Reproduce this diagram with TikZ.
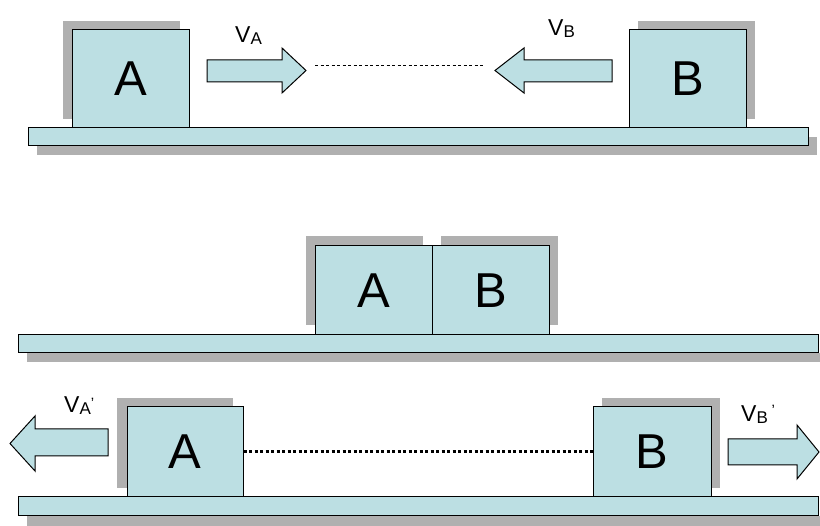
\documentclass[tikz,border=0pt]{standalone}
\usepackage{fontspec}
\setmainfont{Liberation Sans}
\definecolor{tealfill}{RGB}{188,223,227}
\definecolor{shadowgray}{RGB}{176,176,176}
\tikzset{
  obj/.style={draw=black, fill=tealfill, line width=1pt, inner sep=0pt},
  shd/.style={fill=shadowgray, draw=none},
  letter/.style={font=\fontsize{49}{49}\selectfont},
  lbl/.style={font=\fontsize{23}{23}\selectfont, inner sep=0pt, anchor=base west},
  arr/.style={draw=black, fill=tealfill, line width=1pt, line join=miter},
}
\newcommand\subl[1]{\raisebox{-2pt}{\fontsize{17}{17}\selectfont #1}}
\begin{document}
\begin{tikzpicture}[x=1pt,y=-1pt]
\useasboundingbox[fill=white] (0,0) rectangle (820,526);
% ---------- Panel 1 ----------
\fill[shd] (37,137) rectangle (817,155);
\fill[shd] (63,21) rectangle (180,119);
\fill[shd] (638,21) rectangle (755,119);
\node[obj, minimum width=780pt, minimum height=18pt] (F1) at (418,137) {};
\node[obj, letter, minimum width=117pt, minimum height=98pt] (A1) at (130.5,79) {A};
\node[obj, letter, minimum width=117pt, minimum height=98pt] (B1) at (687.5,79) {B};
\draw[arr] (207,60) -- (282,60) -- (282,48) -- (306,70.5) coordinate (ta) -- (282,93) -- (282,82) -- (207,82) -- cycle;
\draw[arr] (612,60) -- (524,60) -- (524,48) -- (495,70.5) coordinate (tb) -- (524,93) -- (524,82) -- (612,82) -- cycle;
\coordinate (d1s) at (315,66);
\coordinate (d1e) at (485,66);
\draw[line width=1pt, dash pattern=on 3pt off 2.5pt] (d1s) -- (d1e);
\node[lbl] (lva) at (235,43) {V\subl{A}};
\node[lbl] (lvb) at (548,36) {V\subl{B}};
% ---------- Panel 2 ----------
\fill[shd] (27,353) rectangle (827,362);
\fill[shd] (306,236) rectangle (423,325);
\fill[shd] (441,236) rectangle (558,325);
\node[obj, minimum width=800pt, minimum height=18pt] (F2) at (418,344) {};
\node[obj, letter, minimum width=117pt, minimum height=89pt] (A2) at (373.5,290.5) {A};
\node[obj, letter, minimum width=117pt, minimum height=89pt] (B2) at (490.5,290.5) {B};
% ---------- Panel 3 ----------
\fill[shd] (27,516) rectangle (827,526);
\fill[shd] (117,398) rectangle (233,488);
\fill[shd] (602,398) rectangle (720,488);
\node[obj, minimum width=800pt, minimum height=19pt] (F3) at (418,506.5) {};
\node[obj, letter, minimum width=116pt, minimum height=90pt] (A3) at (185,452) {A};
\node[obj, letter, minimum width=118pt, minimum height=90pt] (B3) at (652,452) {B};
\draw[line width=3pt, dash pattern=on 3pt off 2.5pt] (A3.east) -- (B3.west);
\draw[arr] (108,429) -- (35,429) -- (35,416) -- (10,443.5) -- (35,471) -- (35,456) -- (108,456) -- cycle;
\draw[arr] (728,439) -- (797,439) -- (797,425) -- (819,452) -- (797,479) -- (797,465) -- (728,465) -- cycle;
\node[lbl] (lva2) at (64,413) {V\subl{A}\raisebox{4pt}{\fontsize{15}{15}\selectfont '}};
\node[lbl] (lvb2) at (741,422) {V\subl{B}\,\raisebox{6pt}{\fontsize{15}{15}\selectfont '}};
\end{tikzpicture}
\end{document}
